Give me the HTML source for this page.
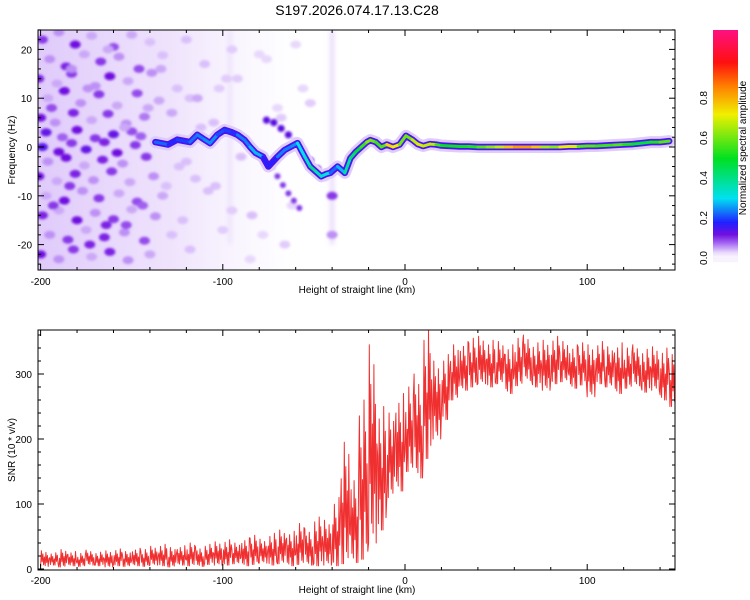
<!DOCTYPE html>
<html><head><meta charset="utf-8"><style>
html,body{margin:0;padding:0;background:#fff;}
svg{display:block;font-family:"Liberation Sans",sans-serif;}
</style></head><body>
<svg id="chart" width="750" height="600" viewBox="0 0 750 600">
<defs>
<filter id="blur" x="-50%" y="-50%" width="200%" height="200%"><feGaussianBlur stdDeviation="1.3"/></filter>
<filter id="blur2" x="-50%" y="-50%" width="200%" height="200%"><feGaussianBlur stdDeviation="2.5"/></filter>
<linearGradient id="wash" x1="0" x2="1" y1="0" y2="0">
<stop offset="0" stop-color="#dcc4fa" stop-opacity="0.9"/>
<stop offset="0.5" stop-color="#e6d4fb" stop-opacity="0.65"/>
<stop offset="1" stop-color="#f4ecfe" stop-opacity="0"/>
</linearGradient>
<clipPath id="clipTop"><rect x="38" y="30" width="637" height="240"/></clipPath>
<clipPath id="clipBot"><rect x="38" y="330" width="637" height="240"/></clipPath>
</defs>
<text x="357" y="15" text-anchor="middle" font-size="14">S197.2026.074.17.13.C28</text>
<g id="topPanel"></g>
<g id="botPanel"></g>
<g id="cbar"></g>
</svg>
<script>
// ---- data ----
const ridgeKm = [-137,-130,-125,-118,-114,-110,-107,-103,-99,-95,-92,-88,-85,-82,-78,-75,-70,-66,-62,-59,-55,-52,-49,-46,-43,-41,-37,-33,-30,-27,-24,-21,-19,-16,-13,-10,-6.6,-3,0.5,4,7,10,13.7,17,20,25,30,35,40,45,50,55,60,65,70,75,80,85,90,95,100,105,110,115,120,125,130,135,140,145];
const ridgeHz = [1,0.5,1.5,1,2.5,1.5,0.8,2.5,3.5,3,2.5,1.4,0,-1.2,-2,-4,-2,-0.6,0.2,0.8,-2,-4,-5,-6,-5.5,-5.3,-4,-5.3,-2.3,-1,0,1,1.4,1,0,0.5,0,0.5,2.3,1.5,0.6,0.2,0.6,0.5,0.3,0.2,0.1,0.1,0,0,0,0,0,0,0,0,0,0,0.1,0.1,0.2,0.2,0.3,0.4,0.5,0.6,0.8,1,1,1.2];
const ridgeAmp = [0.3,0.15,0.22,0.18,0.28,0.2,0.3,0.2,0.22,0.18,0.2,0.28,0.2,0.35,0.2,0.15,0.2,0.28,0.2,0.3,0.3,0.38,0.42,0.3,0.35,0.25,0.2,0.35,0.4,0.45,0.5,0.6,0.65,0.55,0.55,0.6,0.9,0.55,0.65,0.55,0.8,0.6,0.75,0.6,0.5,0.5,0.52,0.5,0.55,0.6,0.65,0.7,0.85,0.8,0.85,0.7,0.6,0.65,0.8,0.6,0.55,0.6,0.5,0.6,0.55,0.5,0.45,0.5,0.55,0.6];
const branch1Km = [-76,-72,-68,-64,-60,-56,-52,-48,-44];
const branch1Hz = [5.5,5,3.8,2.5,1,-0.8,-2.8,-4.5,-6];
const branch2Km = [-73,-70,-67,-64,-61,-58];
const branch2Hz = [-4,-6,-7.8,-9.5,-11,-12.5];
const bgKm = [-199,-190,-181,-172,-160,-150,-140,-120,-95,-60,
 -195,-186,-176,-167,-157,-146,-133,-110,-80,
 -201,-191,-183,-170,-162,-152,-139,-125,-98,
 -196,-187,-178,-168,-158,-147,-135,-118,-70,
 -200,-192,-182,-172,-163,-153,-143,-128,-105,
 -197,-188,-180,-170,-160,-150,-145,
 -199,-190,-183,-175,-165,-158,-148,
 -196,-186,-176,-166,-155,-142,-120,
 -201,-191,-181,-171,-161,-151,-138,-115,
 -197,-187,-177,-168,-157,-147,-133,-108,-62,
 -199,-190,-180,-170,-160,-150,-137,-122,-95,
 -195,-185,-175,-165,-154,-143,-128,-100,
 -200,-190,-182,-172,-162,-152,-140,-118,-85,
 -194,-184,-174,-164,-154,-144,-134,-124,-114,-104,-92,-84,-76,-66,-56,
 -193,-183,-173,-163,-153,-141,-131,-112,-102,-90,-78,-68,-52,-40,-40];
const bgHz = [22,23.5,21,22.8,20.5,23,21.5,22,20,21,
 18,16.5,19,17.5,18.5,16,18.8,17,19,
 14,13,15,12.5,14.5,13.5,15.2,12,14,
 10,11.5,9,10.8,8.5,11,9.5,10,8,
 6,5,7,5.5,6.8,4.8,6.2,7,5,
 3,2,3.5,1.8,2.6,3.2,2.2,
 0,-1,0.8,-0.5,1,-1.2,0.4,
 -3,-2.2,-3.8,-2.6,-3.4,-2,-3,
 -6,-7,-5.5,-6.8,-5,-7.2,-6,-6.5,
 -10,-11,-9,-10.5,-9.5,-11.2,-10,-9,-12,
 -14,-13,-15,-13.5,-14.8,-12.8,-14.2,-15,-13,
 -18,-19,-17,-18.5,-17.5,-19.2,-18,-17,
 -22,-23,-21,-22.5,-21.5,-23.2,-22,-21,-23,
 8,-8,12,-16,4,-12,16,-4,10,-8,14,-14,18,-20,12,
 -12,16,-20,20,-16,8,-8,4,12,-2,-18,6,9,-18,-10];
const bgAmp = [0.1,0.06,0.12,0.05,0.09,0.05,0.04,0.04,0.035,0.03,
 0.06,0.11,0.05,0.1,0.06,0.09,0.04,0.04,0.03,
 0.11,0.05,0.1,0.06,0.12,0.05,0.06,0.04,0.035,
 0.05,0.12,0.06,0.1,0.05,0.09,0.05,0.04,0.03,
 0.12,0.06,0.11,0.05,0.1,0.06,0.07,0.05,0.04,
 0.13,0.08,0.12,0.1,0.13,0.09,0.08,
 0.14,0.12,0.1,0.13,0.11,0.12,0.1,
 0.06,0.12,0.05,0.11,0.06,0.1,0.04,
 0.12,0.05,0.11,0.06,0.1,0.05,0.06,0.04,
 0.05,0.12,0.06,0.1,0.05,0.09,0.05,0.04,0.03,
 0.11,0.05,0.12,0.06,0.1,0.05,0.06,0.04,0.035,
 0.06,0.1,0.05,0.11,0.06,0.09,0.04,0.035,
 0.12,0.06,0.1,0.05,0.11,0.06,0.05,0.04,0.03,
 0.09,0.1,0.06,0.11,0.05,0.08,0.05,0.04,0.05,0.04,0.035,0.04,0.03,0.035,0.03,
 0.1,0.06,0.11,0.05,0.09,0.05,0.04,0.04,0.035,0.04,0.03,0.035,0.035,0.06,0.1];
const snrStartKm = -200;
const snrStep = 5;
const snrLo = [4,6,3,5,4,6,5,3,5,4, 5,4,6,5,3,6,5,4,7,6, 6,8,5,7,9,6,8,5,7,6,
 5,6,5,8,10,15,40,60,110,120, 150,140,170,200,230,260,275,280,285,280,
 285,270,282,290,280,275,285,288,278,283, 265,285,280,270,278,282,272,275,260,250];
const snrHi = [28,25,30,27,24,29,26,28,31,27, 32,30,35,38,33,36,40,34,38,42, 45,40,48,52,46,55,60,58,70,62,
 80,75,110,195,150,260,345,250,240,270, 280,300,372,320,330,345,350,355,358,352,
 350,345,355,360,348,352,358,350,345,348, 345,350,342,348,340,345,338,342,340,330];
const xTicks = [-200,-100,0,100];
const freqTicks = [20,10,0,-10,-20];
const snrTicks = [0,100,200,300];
const cbTicks = ['0.0','0.2','0.4','0.6','0.8'];

// ---- helpers ----
const NS='http://www.w3.org/2000/svg';
function mk(tag, attrs, parent){const e=document.createElementNS(NS,tag);for(const k in attrs)e.setAttribute(k,attrs[k]);parent.appendChild(e);return e;}
const X0=38,X1=675;
const xKm = km => 405 + (km)*1.822;
const yHz = hz => 147 - hz*4.88;
const ySnr = v => 569 - v*0.65;
const stops=[[0,[255,255,255]],[0.03,[232,216,252]],[0.08,[160,96,240]],[0.12,[112,16,224]],[0.18,[32,32,255]],[0.3,[0,224,240]],[0.5,[0,224,32]],[0.72,[240,240,0]],[0.86,[255,128,0]],[0.98,[255,16,16]],[1.14,[255,16,128]]];
function col(v){
  if(v<=0) return 'rgb(255,255,255)';
  for(let i=1;i<stops.length;i++){ if(v<=stops[i][0]){const a=stops[i-1],b=stops[i];const t=(v-a[0])/(b[0]-a[0]);const c=a[1].map((q,j)=>Math.round(q+(b[1][j]-q)*t));return 'rgb('+c.join(',')+')';}}
  return 'rgb(255,16,128)';
}

// ---- top panel ----
const topG=document.getElementById('topPanel');
const plot=mk('g',{'clip-path':'url(#clipTop)'},topG);


mk('rect',{x:38,y:30,width:(xKm(-55)-38),height:240,fill:'url(#wash)'},plot);
const streaks=mk('g',{filter:'url(#blur2)'},plot);
mk('rect',{x:xKm(-40)-2,y:yHz(24),width:4,height:yHz(-20)-yHz(24),fill:'#d8c0f8',opacity:0.6},streaks);
mk('rect',{x:xKm(-96)-2,y:yHz(24),width:4,height:yHz(-20)-yHz(24),fill:'#e4d4fa',opacity:0.5},streaks);
const bg=mk('g',{filter:'url(#blur)'},plot);
for(let i=0;i<bgKm.length;i++){
  const e=mk('ellipse',{cx:xKm(bgKm[i]),cy:yHz(bgHz[i]),rx:5.5,ry:4,fill:col(bgAmp[i])},bg);
  
  
}
function branch(kms,hzs,c,w){
  return mk('polyline',{points:kms.map((k,i)=>xKm(k)+','+yHz(hzs[i])).join(' '),fill:'none',stroke:c,'stroke-width':w,'stroke-linecap':'round','stroke-linejoin':'round'},plot);
}
function dots(kms,hzs,c,r,name){
  const g=mk('g',{filter:'url(#blur)'},plot);
  
  
  kms.forEach((k,i)=>mk('circle',{cx:xKm(k),cy:yHz(hzs[i]),r:r,fill:c},g));
}
dots(branch1Km,branch1Hz,'#5a10e0',3.6,'upper-branch');
dots(branch2Km,branch2Hz,'#8038e8',3,'lower-branch');
const halo=branch(ridgeKm,ridgeHz,'#e0ccfa',12);


const mid=branch(ridgeKm,ridgeHz,'#4a14f0',6.5);


for(let i=0;i<ridgeKm.length-1;i++){
  const a=(ridgeAmp[i]+ridgeAmp[i+1])/2;
  const s=mk('line',{x1:xKm(ridgeKm[i]),y1:yHz(ridgeHz[i]),x2:xKm(ridgeKm[i+1]),y2:yHz(ridgeHz[i+1]),stroke:col(a),'stroke-width':3,'stroke-linecap':'round'},plot);
  
  
}
function frame(g,y0,y1){
  mk('rect',{x:X0,y:y0,width:X1-X0,height:y1-y0,fill:'none',stroke:'#000','stroke-width':1},g);
}
function xAxis(g,y0,y1,labY,titleY){
  for(let k=-200;k<=140;k+=20){
    const x=xKm(k),major=(k%100===0);
    mk('line',{x1:x,x2:x,y1:y1,y2:y1-(major?6:3),stroke:'#000'},g);
    mk('line',{x1:x,x2:x,y1:y0,y2:y0+(major?6:3),stroke:'#000'},g);
  }
  xTicks.forEach(k=>{const t=mk('text',{x:xKm(k),y:labY,'text-anchor':'middle','font-size':10},g);t.textContent=k;
    
    });
  const tt=mk('text',{x:357,y:titleY,'text-anchor':'middle','font-size':10},g);tt.textContent='Height of straight line (km)';
  
  
}
frame(topG,30,270);
xAxis(topG,30,270,285,293);
for(let h=-24;h<=24;h+=2){
  const y=yHz(h),major=(h%10===0);
  mk('line',{x1:X0,x2:X0+(major?6:3),y1:y,y2:y,stroke:'#000'},topG);
  mk('line',{x1:X1,x2:X1-(major?6:3),y1:y,y2:y,stroke:'#000'},topG);
}
freqTicks.forEach(h=>{const t=mk('text',{x:32,y:yHz(h)+4,'text-anchor':'end','font-size':10},topG);t.textContent=h;
  
  });
const yt=mk('text',{x:15,y:150,'text-anchor':'middle','font-size':10,transform:'rotate(-90 15 150)'},topG);yt.textContent='Frequency (Hz)';



// ---- bottom panel ----
const botG=document.getElementById('botPanel');
const bp=mk('g',{'clip-path':'url(#clipBot)'},botG);
const pts=[];
const pat=[0,1,0.3,0.8,0.1,0.6,0.05,0.9,0.25,0.7,0,0.5];
for(let i=0;i<snrLo.length;i++){
  const k0=snrStartKm+i*snrStep;
  const lo=snrLo[i],hi=snrHi[i];
  const n=pat.length;
  for(let j=0;j<n;j++){
    const km=k0+j*snrStep/n;
    const v=lo+(hi-lo)*pat[(j+i*5)%n];
    pts.push(xKm(km).toFixed(1)+','+ySnr(v).toFixed(1));
  }
}
const snrLine=mk('polyline',{points:pts.join(' '),fill:'none',stroke:'#f03030','stroke-width':1,'stroke-linejoin':'round'},bp);


frame(botG,330,570);
xAxis(botG,330,570,584,593);
for(let v=0;v<=360;v+=20){
  const y=ySnr(v),major=(v%100===0);
  mk('line',{x1:X0,x2:X0+(major?6:3),y1:y,y2:y,stroke:'#000'},botG);
  mk('line',{x1:X1,x2:X1-(major?6:3),y1:y,y2:y,stroke:'#000'},botG);
}
snrTicks.forEach(v=>{const t=mk('text',{x:32,y:ySnr(v)+4,'text-anchor':'end','font-size':10},botG);t.textContent=v;
  
  });
const yt2=mk('text',{x:15,y:450,'text-anchor':'middle','font-size':10,transform:'rotate(-90 15 450)'},botG);yt2.textContent='SNR (10 * v/v)';



// ---- colorbar ----
const cb=document.getElementById('cbar');
const cy=v=>258-v*200;
for(let y=30;y<262;y++){
  const v=(258-y)/200;
  mk('rect',{x:713,y:y,width:25,height:1.2,fill:col(Math.max(v,0.01))},cb);
}
cbTicks.forEach(s=>{
  const v=parseFloat(s),y=cy(v);
  const t=mk('text',{x:707,y:y,'text-anchor':'middle','font-size':10,transform:'rotate(-90 707 '+y+')'},cb);t.textContent=s;
  
  
});
const ct=mk('text',{x:746,y:148,'text-anchor':'middle','font-size':10,transform:'rotate(-90 746 148)'},cb);ct.textContent='Normalized spectral amplitude';


</script>
</body></html>
